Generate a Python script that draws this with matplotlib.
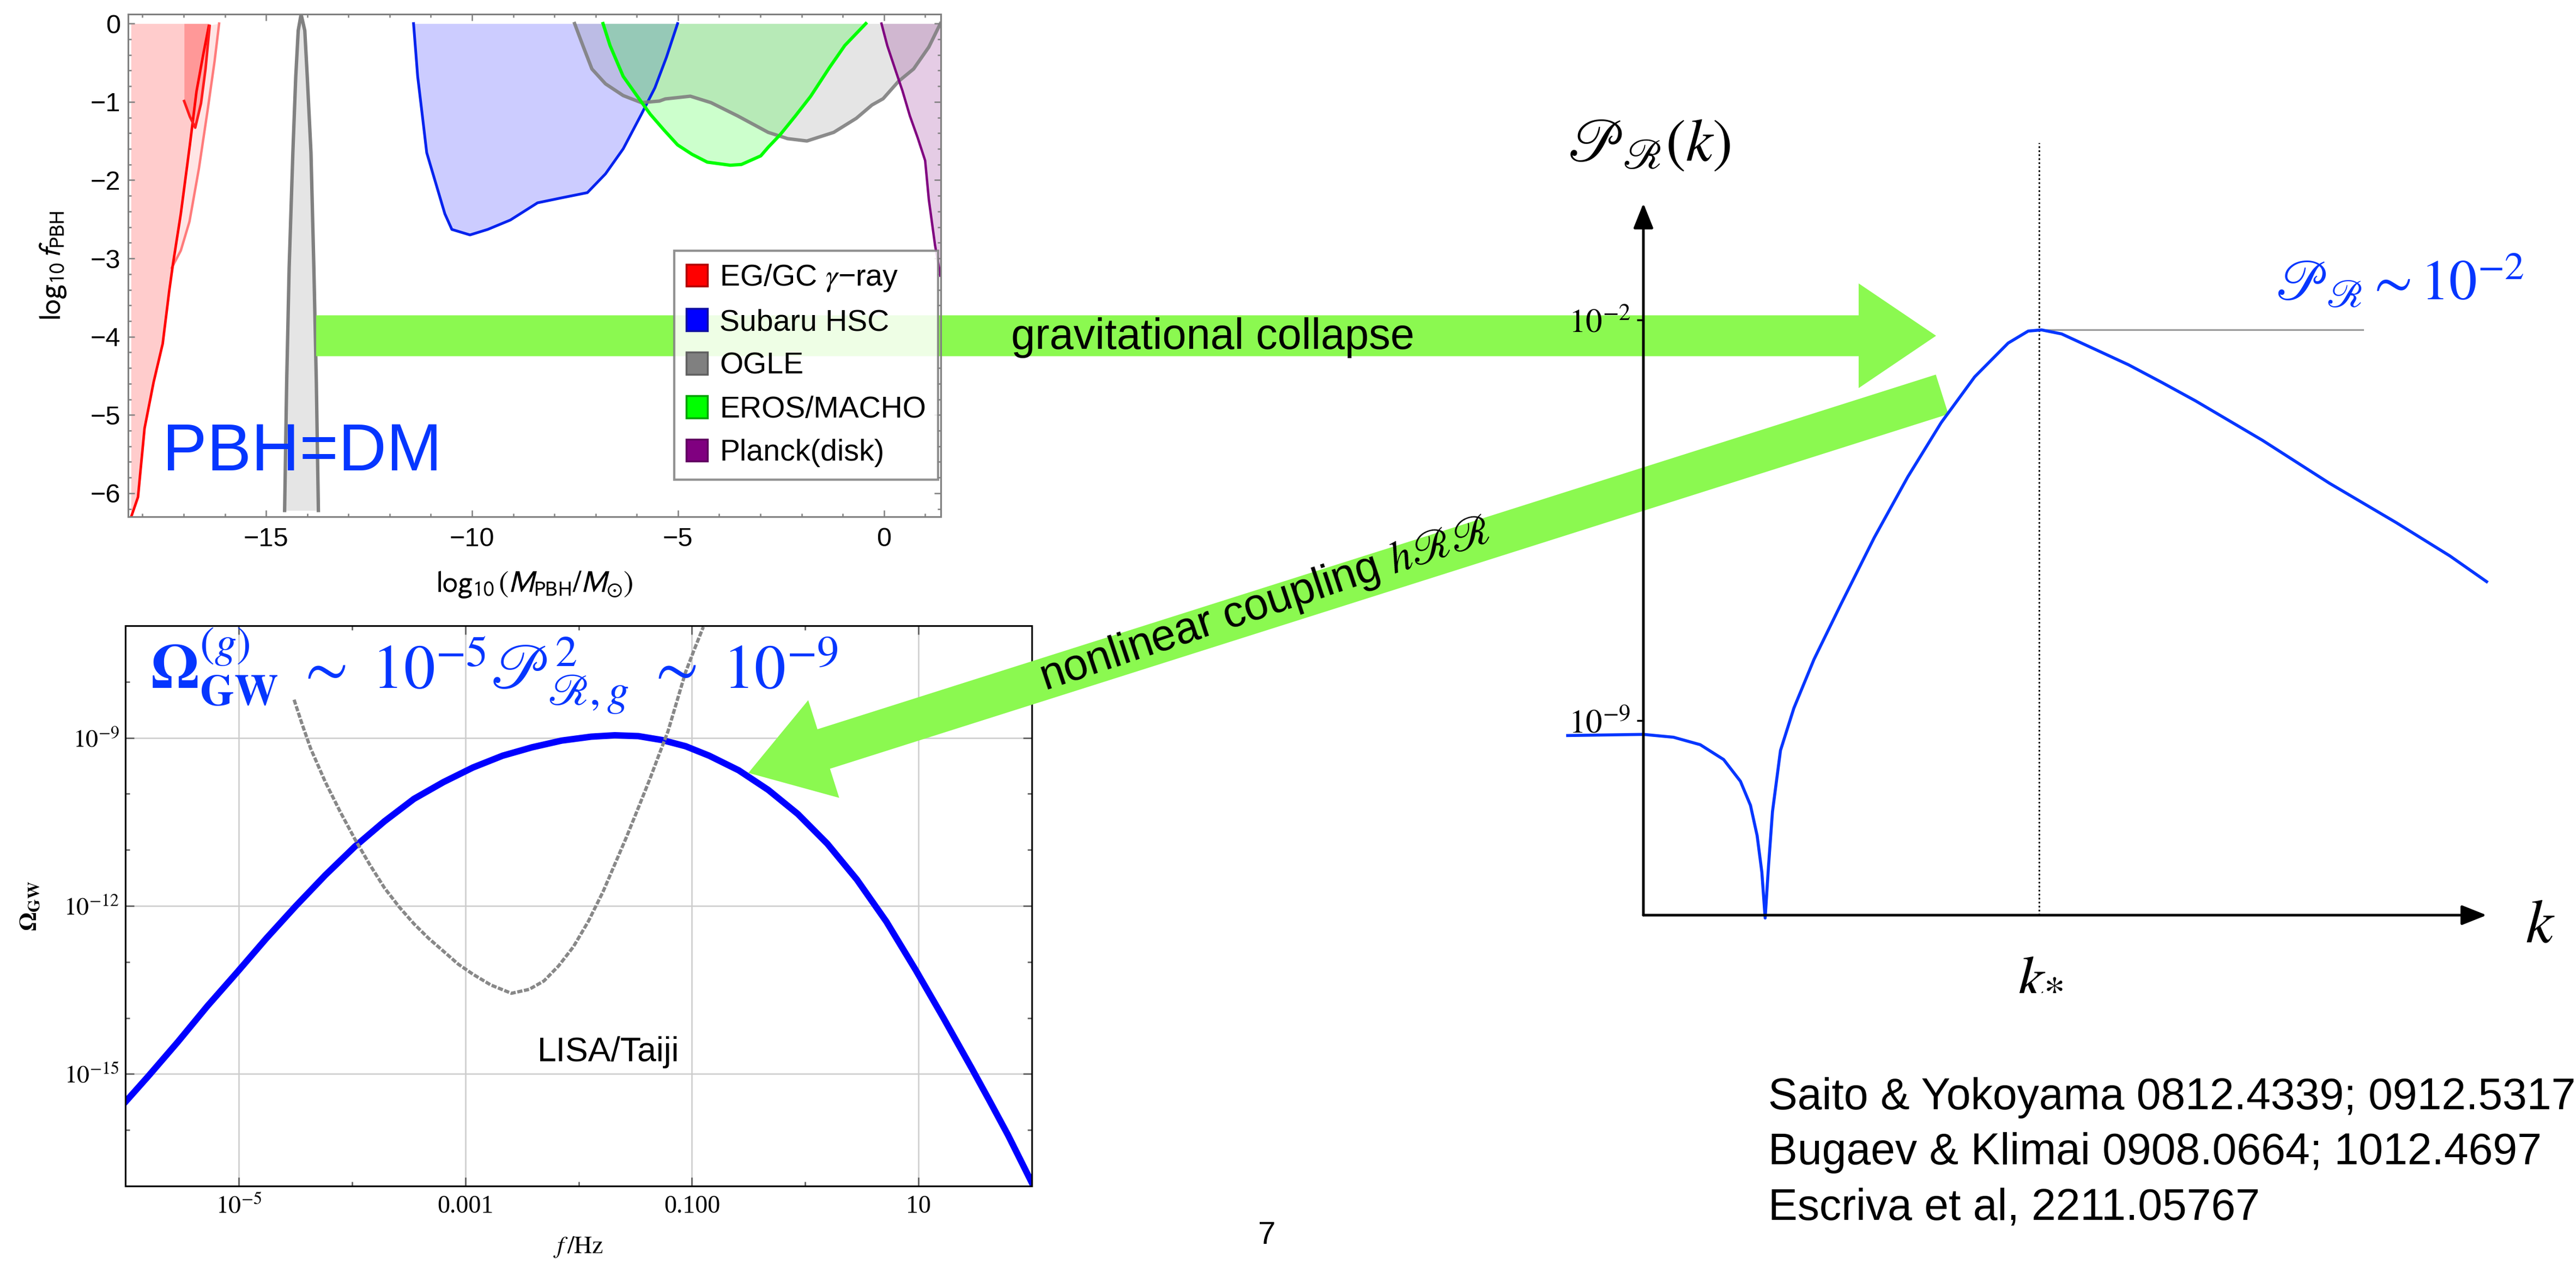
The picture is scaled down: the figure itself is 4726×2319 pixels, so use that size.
import numpy as np
import matplotlib.pyplot as plt
from matplotlib.transforms import Affine2D
from matplotlib.patches import FancyArrow, Patch
from matplotlib.ticker import MultipleLocator, FixedLocator, NullFormatter, NullLocator

plt.rcParams['font.family'] = ['Liberation Sans', 'DejaVu Sans']
plt.rcParams['mathtext.fontset'] = 'stix'

# ---------------- data: PBH abundance constraints (log10 M, log10 f) ----------------
red_main_x = [-18.28, -18.11, -17.95, -17.73, -17.51, -17.35, -17.26, -17.07, -16.85, -16.69, -16.52, -16.39]
red_main_y = [-6.31, -6.05, -5.17, -4.58, -4.09, -3.41, -3.07, -2.43, -1.55, -0.87, -0.38, -0.03]
red_soft_x = [-17.29, -17.07, -16.86, -16.63, -16.42, -16.25, -16.14]
red_soft_y = [-3.12, -2.90, -2.53, -1.85, -1.11, -0.48, 0.0]
red_hook_x = [-16.99, -16.85, -16.72, -16.58, -16.47, -16.37]
red_hook_y = [-0.99, -1.19, -1.33, -1.02, -0.58, -0.03]

ogle_spike_x = [-14.55, -14.50, -14.44, -14.35, -14.28, -14.22, -14.15, -14.06, -14.00, -13.91, -13.84, -13.78, -13.73]
ogle_spike_y = [-6.22, -4.58, -3.12, -1.65, -0.68, -0.09, 0.12, -0.09, -0.68, -1.65, -3.12, -4.58, -6.22]

hsc_x = [-11.42, -11.32, -11.21, -11.10, -10.88, -10.66, -10.49, -10.05, -9.62, -9.07, -8.41, -7.86, -7.20,
         -6.76, -6.33, -5.89, -5.56, -5.28, -5.01]
hsc_y = [0.0, -0.675, -1.16, -1.65, -2.04, -2.43, -2.63, -2.70, -2.63, -2.51, -2.29, -2.23, -2.16,
         -1.92, -1.60, -1.16, -0.82, -0.43, 0.0]

ogle_x = [-7.51, -7.31, -7.09, -6.76, -6.33, -5.89, -5.45, -5.31, -4.70, -4.20, -3.55, -2.81, -2.34, -1.87,
          -1.22, -0.67, -0.29, -0.02, 0.35, 0.72, 1.09, 1.37]
ogle_y = [0.0, -0.28, -0.58, -0.77, -0.92, -1.01, -0.99, -0.963, -0.928, -1.01, -1.18, -1.39, -1.47, -1.50,
          -1.39, -1.21, -1.04, -0.96, -0.74, -0.58, -0.30, 0.0]

eros_x = [-6.82, -6.65, -6.33, -6.00, -5.67, -5.34, -5.01, -4.66, -4.29, -3.73, -3.46, -2.99, -2.81, -2.52,
          -2.15, -1.78, -1.32, -0.95, -0.44]
eros_y = [0.0, -0.28, -0.675, -0.92, -1.16, -1.36, -1.55, -1.67, -1.77, -1.81, -1.80, -1.69, -1.58, -1.42,
          -1.18, -0.93, -0.56, -0.28, 0.0]

planck_x = [-0.06, 0.08, 0.27, 0.45, 0.63, 0.82, 1.00, 1.09, 1.24, 1.37]
planck_y = [0.0, -0.28, -0.58, -0.86, -1.18, -1.46, -1.75, -2.25, -2.83, -3.22]

legend_labels = ['EG/GC $\\gamma$\u2212ray', 'Subaru HSC', 'OGLE', 'EROS/MACHO', 'Planck(disk)']
legend_colors = ['#ff0000', '#0000ff', '#808080', '#00ff00', '#800080']
legend_edges = ['#b00000', '#1010a0', '#606060', '#00a000', '#600060']

# ---------------- data: GW spectrum (log10 f/Hz, log10 Omega) ----------------
gw_logf = [-5.996, -5.798, -5.538, -5.277, -5.016, -4.756, -4.495, -4.235, -3.974, -3.713, -3.453, -3.192,
           -2.932, -2.671, -2.411, -2.150, -1.889, -1.681, -1.473, -1.264, -1.056, -0.847, -0.587, -0.326,
           -0.065, 0.195, 0.456, 0.716, 0.977, 1.22, 1.47, 1.63, 1.79, 2.0]
gw_logomega = [-15.49, -15.04, -14.43, -13.79, -13.19, -12.58, -12.00, -11.45, -10.94, -10.49, -10.09, -9.79,
               -9.53, -9.32, -9.17, -9.05, -8.98, -8.955, -8.97, -9.04, -9.15, -9.32, -9.58, -9.93,
               -10.36, -10.89, -11.53, -12.28, -13.15, -14.0, -14.90, -15.49, -16.09, -16.94]
lisa_logf = [-4.511, -4.443, -4.365, -4.235, -4.104, -3.974, -3.844, -3.713, -3.583, -3.453, -3.323, -3.192,
             -3.062, -2.932, -2.776, -2.593, -2.437, -2.306, -2.176, -2.046, -1.915, -1.785, -1.681, -1.577,
             -1.473, -1.368, -1.290, -1.212, -1.134, -1.056, -0.978, -0.899]
lisa_logomega = [-8.32, -8.74, -9.19, -9.79, -10.32, -10.81, -11.26, -11.68, -12.02, -12.32, -12.58, -12.81,
                 -13.04, -13.22, -13.41, -13.56, -13.49, -13.34, -13.07, -12.73, -12.28, -11.75, -11.26, -10.77,
                 -10.25, -9.72, -9.30, -8.89, -8.36, -7.83, -7.42, -7.02]
gw_xticks = [1e-5, 1e-3, 1e-1, 1e1]
gw_xticklabels = ['$10^{-5}$', '0.001', '0.100', '10']
gw_yticks = [1e-15, 1e-12, 1e-9]
gw_yticklabels = ['$10^{-15}$', '$10^{-12}$', '$10^{-9}$']

# ---------------- data: schematic power spectrum (k in arbitrary units, log10 P) ----------------
pk_x = [-0.898, 0.0, 0.357, 0.674, 0.952, 1.151, 1.27, 1.349, 1.405, 1.444, 1.484, 1.531, 1.626, 1.785,
        2.023, 2.341, 2.738, 3.135, 3.532, 3.929, 4.326, 4.564, 4.723, 4.96, 5.358, 5.754, 6.151, 6.548,
        7.342, 8.136, 8.93, 9.564, 10.0]
pk_logP = [-9.26, -9.24, -9.29, -9.42, -9.68, -10.06, -10.48, -11.01, -11.65, -12.45, -11.54, -10.59,
           -9.52, -8.78, -7.93, -6.97, -5.80, -4.74, -3.79, -2.99, -2.40, -2.19, -2.17, -2.24, -2.51, -2.78,
           -3.09, -3.41, -4.10, -4.85, -5.54, -6.12, -6.57]
k_star = 4.69
pk_plateau = -2.17
pk_yticks = [1e-2, 1e-9]
pk_yticklabels = ['$10^{-2}$', '$10^{-9}$']

references = ['Saito & Yokoyama 0812.4339; 0912.5317',
              'Bugaev & Klimai 0908.0664; 1012.4697',
              'Escriva et al, 2211.05767']

# ---------------- figure in pixel units ----------------
W, H = 4726, 2319
fig = plt.figure(figsize=(W / 100, H / 100), dpi=100)
px = Affine2D().scale(1 / W, -1 / H).translate(0, 1) + fig.transFigure


def box(l, t, r, b):
    return [l / W, 1 - b / H, (r - l) / W, (b - t) / H]


GREY = '#808080'
ARROW_GREEN = '#8bf950'
TXT_BLUE = '#0536ff'

# ---------------- top-left: PBH constraints ----------------
ax1 = fig.add_axes(box(235, 26, 1726, 948))
ax1.fill_between(red_main_x, red_main_y, 0, color='#ff0000', alpha=0.2, lw=0)
ax1.fill(np.r_[red_main_x[6:], red_soft_x[::-1]], np.r_[red_main_y[6:], red_soft_y[::-1]],
         color='#ff0000', alpha=0.1, lw=0)
ax1.fill_between(red_hook_x, red_hook_y, 0, color='#ff0000', alpha=0.25, lw=0)
ax1.plot(red_soft_x, red_soft_y, color='#ff7b7b', lw=3.2)
ax1.plot(red_main_x, red_main_y, color='#ff0000', lw=3.4)
ax1.plot(red_hook_x, red_hook_y, color='#ff1a1a', lw=3.4)

ax1.fill_between(ogle_spike_x, ogle_spike_y, min(ogle_spike_y), color=GREY, alpha=0.2, lw=0)
ax1.plot(ogle_spike_x, ogle_spike_y, color=GREY, lw=4.5)

ax1.fill_between(hsc_x, hsc_y, 0, color='#0000ff', alpha=0.2, lw=0)
ax1.fill_between(ogle_x, ogle_y, 0, color=GREY, alpha=0.2, lw=0)
ax1.fill_between(eros_x, eros_y, 0, color='#00ff00', alpha=0.2, lw=0)
ax1.fill_between(planck_x, planck_y, 0, color='#800080', alpha=0.2, lw=0)
ax1.plot(hsc_x, hsc_y, color='#0022ee', lw=3.6)
ax1.plot(ogle_x, ogle_y, color=GREY, lw=4.5, alpha=0.9)
ax1.plot(eros_x, eros_y, color='#00ff00', lw=4.3)
ax1.plot(planck_x, planck_y, color='#800080', lw=3.2)

ax1.set_xlim(-18.35, 1.38)
ax1.set_ylim(-6.30, 0.12)
ax1.set_xticks([-15, -10, -5, 0])
ax1.set_yticks([0, -1, -2, -3, -4, -5, -6])
ax1.xaxis.set_minor_locator(MultipleLocator(1))
ax1.yaxis.set_minor_locator(MultipleLocator(0.2))
ax1.tick_params(which='both', direction='in', top=True, right=True, colors=GREY,
                labelcolor='black', labelsize=35, width=1.8)
ax1.tick_params(which='major', length=8.6)
ax1.tick_params(which='minor', length=4.3)
ax1.tick_params(axis='x', pad=14)
ax1.tick_params(axis='y', pad=10)
for s in ax1.spines.values():
    s.set_color(GREY)
    s.set_linewidth(2.2)
ax1.set_xlabel(r'$\log_{10}(M_{\rm PBH}/M_{\odot})$', fontsize=40, math_fontfamily='stixsans')
ax1.xaxis.set_label_coords(0.5, -0.105)
ax1.set_ylabel(r'$\log_{10} f_{\rm PBH}$', fontsize=40, math_fontfamily='stixsans')
ax1.yaxis.set_label_coords(-0.074, 0.5)

handles = [Patch(facecolor=c, edgecolor=e, lw=2.5, label=l)
           for c, e, l in zip(legend_colors, legend_edges, legend_labels)]
leg = ax1.legend(handles=handles, loc='upper left',
                 bbox_to_anchor=((1237 - 235) / 1491, 1 - (460 - 26) / 922),
                 fontsize=40, frameon=True, fancybox=False, edgecolor=GREY, framealpha=0.86,
                 borderpad=0.4, handlelength=0.7, handleheight=0.75, handletextpad=0.4,
                 labelspacing=0.5, borderaxespad=0)
leg.get_frame().set_linewidth(3)

ax1.text(298, 863, 'PBH=DM', transform=px, fontsize=88, color=TXT_BLUE, ha='left', va='baseline')

ax1.add_patch(FancyArrow(580, 616, 3552 - 580, 0, width=75, head_width=192, head_length=142,
                         length_includes_head=True, transform=px, color=ARROW_GREEN, lw=0,
                         zorder=2.4, clip_on=False))

# ---------------- bottom-left: GW spectrum ----------------
ax2 = fig.add_axes(box(230, 1148, 1893, 2176))
ax2.set_xscale('log')
ax2.set_yscale('log')
ax2.plot(10.0 ** np.array(gw_logf), 10.0 ** np.array(gw_logomega), color='#0000ff', lw=8.5)
ax2.plot(10.0 ** np.array(lisa_logf), 10.0 ** np.array(lisa_logomega), color='#888888', lw=4.3,
         ls=(0, (1.6, 0.5)))
ax2.set_xlim(1e-6, 1e2)
ax2.set_ylim(1e-17, 1e-7)
ax2.set_xticks(gw_xticks, labels=gw_xticklabels)
ax2.set_yticks(gw_yticks, labels=gw_yticklabels)
ax2.xaxis.set_minor_locator(FixedLocator([1e-6, 1e-4, 1e-2, 1e0, 1e2]))
ax2.yaxis.set_minor_locator(FixedLocator([1e-17, 1e-16, 1e-14, 1e-13, 1e-11, 1e-10, 1e-8, 1e-7]))
ax2.xaxis.set_minor_formatter(NullFormatter())
ax2.yaxis.set_minor_formatter(NullFormatter())
ax2.grid(which='major', color='#cccccc', lw=1.8)
ax2.tick_params(which='both', direction='in', top=True, right=True, color='#555555',
                labelsize=33, width=1.8)
ax2.tick_params(which='major', length=11.5)
ax2.tick_params(which='minor', length=5.8)
ax2.tick_params(axis='x', pad=12)
ax2.tick_params(axis='y', pad=8)
for lbl in ax2.get_xticklabels() + ax2.get_yticklabels():
    lbl.set_fontfamily('Liberation Serif')
for s in ax2.spines.values():
    s.set_linewidth(2.2)
ax2.set_xlabel(r'$f\,/\mathrm{Hz}$', fontsize=33)
ax2.xaxis.set_label_coords(0.5, -0.088)
ax2.set_ylabel(r'$\mathbf{\Omega}_{\mathbf{GW}}$', fontsize=32)
ax2.yaxis.set_label_coords(-0.0926, 0.5)

ax2.text(276, 1263, r'$\mathbf{\Omega}_{\mathbf{GW}}^{(g)}\ \sim\ 10^{-5}\mathscr{P}^{2}_{\mathscr{R},g}\ \sim\ 10^{-9}$',
         transform=px, fontsize=83, color=TXT_BLUE, ha='left', va='baseline')
ax2.text(986, 1947, 'LISA/Taiji', transform=px, fontsize=45, ha='left', va='baseline')

ax2.add_patch(FancyArrow(3563, 723.5, 1373 - 3563, 1418 - 723.5, width=76, head_width=188,
                         head_length=145, length_includes_head=True, transform=px,
                         color=ARROW_GREEN, lw=0, zorder=6, clip_on=False))

# ---------------- right: schematic curvature power spectrum ----------------
ax3 = fig.add_axes(box(3015, 373, 4562, 1679))
ax3.set_facecolor('none')
ax3.set_yscale('log')
ax3.set_xlim(0, 10)
ax3.set_ylim(10 ** -12.4, 10 ** 0.043)
for s in ax3.spines.values():
    s.set_visible(False)
arrow_kw = dict(arrowstyle='-|>,head_length=0.4,head_width=0.16', lw=3.5, color='black',
                mutation_scale=70, shrinkA=0, shrinkB=0)
ax3.annotate('', xy=(1, 0), xytext=(0, 0), xycoords='axes fraction', arrowprops=arrow_kw)
ax3.annotate('', xy=(0, 1), xytext=(0, 0), xycoords='axes fraction', arrowprops=arrow_kw)
ax3.plot([k_star, k_star], [10 ** -12.4, 10 ** 1.1], color='black', lw=2.2, ls=(0, (1, 1.4)),
         clip_on=False)
ax3.plot([k_star, 8.53], [10 ** pk_plateau] * 2, color='#999999', lw=2.2)
ax3.plot(pk_x, 10.0 ** np.array(pk_logP), color=TXT_BLUE, lw=4, clip_on=False)
ax3.set_xticks([])
ax3.set_yticks(pk_yticks, labels=pk_yticklabels)
ax3.yaxis.set_minor_locator(NullLocator())
ax3.tick_params(axis='y', direction='out', length=9, width=2.5, labelsize=44, pad=8)

fig.text(2876, 295, r'$\mathscr{P}_{\mathscr{R}}(k)$', transform=px, fontsize=80, ha='left', va='baseline')
fig.text(4175, 549, r'$\mathscr{P}_{\mathscr{R}} \sim 10^{-2}$', transform=px, fontsize=74,
         color=TXT_BLUE, ha='left', va='baseline')
fig.text(4660, 1729, '$k$', transform=px, fontsize=82, ha='center', va='baseline')
fig.text(3742, 1818, '$k_{*}$', transform=px, fontsize=80, ha='center', va='baseline')

# ---------------- annotations ----------------
fig.text(1855, 640, 'gravitational collapse', transform=px, fontsize=57, ha='left', va='baseline')
fig.text(2320, 1110, r'nonlinear coupling $h\mathscr{R}\mathscr{R}$', transform=px, fontsize=58,
         ha='center', va='center', rotation=18.5, rotation_mode='anchor')
for i, line in enumerate(references):
    fig.text(3244, 2035 + 101 * i, line, transform=px, fontsize=58, ha='left', va='baseline')
fig.text(2324, 2282, '7', transform=px, fontsize=42, ha='center', va='baseline')

fig.savefig('out.png', dpi=100)
